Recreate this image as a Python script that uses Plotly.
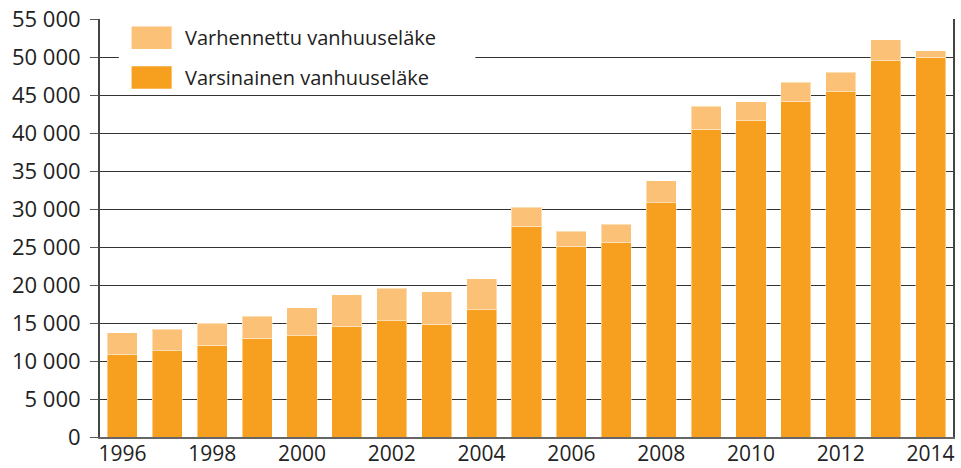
import plotly.graph_objects as go

years = [str(y) for y in range(1996, 2015)]
varsinainen = [10900, 11350, 12100, 13000, 13300, 14600, 15300, 14850, 16750, 27700,
               25100, 25650, 30800, 40500, 41600, 44200, 45400, 49600, 50000]
total = [13700, 14200, 15000, 15900, 17000, 18750, 19550, 19100, 20800, 30200,
         27050, 28000, 33700, 43500, 44100, 46700, 48000, 52300, 50800]
varhennettu = [t - v for t, v in zip(total, varsinainen)]

y_tickvals = list(range(0, 55001, 5000))
y_ticktext = ["0", "5 000", "10 000", "15 000", "20 000", "25 000", "30 000",
              "35 000", "40 000", "45 000", "50 000", "55 000"]
x_tickvals = ["1996", "1998", "2000", "2002", "2004", "2006", "2008", "2010", "2012", "2014"]

name_dark = "Varsinainen vanhuuseläke"
name_light = "Varhennettu vanhuuseläke"
c_dark = "#F7A01F"
c_light = "#FBC277"

FONT = "Open Sans"

fig = go.Figure()
fig.add_trace(go.Bar(x=years, y=varsinainen, name=name_dark, marker_color=c_dark,
                     marker_line=dict(color="rgba(255,255,255,0.45)", width=1)))
fig.add_trace(go.Bar(x=years, y=varhennettu, name=name_light, marker_color=c_light,
                     marker_line=dict(color="rgba(255,255,255,0.45)", width=1)))

# custom legend (large swatches as in reference)
fig.add_shape(type="rect", xref="paper", yref="paper", x0=0.022, x1=0.44, y0=0.82, y1=0.997,
              fillcolor="white", line_width=0, layer="above")
legend_items = [(name_light, c_light, 0.955), (name_dark, c_dark, 0.86)]
for txt, col, yc in legend_items:
    fig.add_shape(type="rect", xref="paper", yref="paper", x0=0.037, x1=0.084,
                  y0=yc - 0.027, y1=yc + 0.027, fillcolor=col, line_width=0, layer="above")
    fig.add_annotation(xref="paper", yref="paper", x=0.097, y=yc, text=txt, showarrow=False,
                       xanchor="left", yanchor="middle",
                       font=dict(family=FONT, size=20, color="#222"))

fig.update_layout(
    barmode="stack",
    bargap=0.33,
    width=961, height=468,
    margin=dict(l=100, r=8, t=19, b=31, autoexpand=False),
    plot_bgcolor="white", paper_bgcolor="white",
    showlegend=False,
    font=dict(family=FONT, size=20, color="#222"),
    xaxis=dict(type="category", tickmode="array", tickvals=x_tickvals, ticks="",
               showline=True, linecolor="#666", linewidth=1.5, showgrid=False,
               tickfont=dict(size=21), ticklabelstandoff=-3, automargin=False),
    yaxis=dict(range=[0, 55000], tickmode="array", tickvals=y_tickvals, ticktext=y_ticktext,
               showgrid=True, gridcolor="#333", gridwidth=1,
               showline=True, linecolor="#444", linewidth=2, mirror=True,
               ticks="outside", ticklen=8, tickcolor="#555", tickwidth=1,
               ticklabelstandoff=5,
               tickfont=dict(size=22), zeroline=False, automargin=False),
)

fig.write_html("out.html", config={"displayModeBar": False},
               post_script="document.body.style.margin='0px';document.body.style.overflow='hidden';")
